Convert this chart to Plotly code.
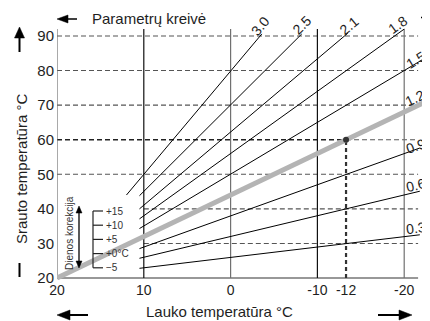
import math
import plotly.graph_objects as go

# ---------------- data ----------------
curve_params = ["0.3", "0.6", "0.9", "1.2", "1.5", "1.8", "2.1", "2.5", "3.0"]
curve_x_start = [10.5, 10.5, 10.5, 20.0, 10.5, 10.5, 10.5, 10.5, 12.0]
curve_y_start = [22.8, 25.7, 28.5, 20.0, 34.3, 37.1, 40.0, 43.8, 44.0]
curve_x_end = [-21.8, -21.8, -21.8, -23.0, -22.2, -20.0, -13.5, -8.2, -3.6]
curve_y_end = [32.5, 45.1, 57.6, 71.6, 83.3, 92.0, 90.8, 90.6, 90.6]
highlight_param = "1.2"

# the "-12" tick sits where the drawing places it on the linear scale
x_tick_vals = [20, 10, 0, -10, -13.3, -20]
x_tick_text = ["20", "10", "0", "-10", "-12", "-20"]
y_tick_vals = [20, 30, 40, 50, 60, 70, 80, 90]

vertical_grid = [20, 10, 0, -10, -20]
design_x = -13.3
design_y = 60

correction_labels = ["+15", "+10", "+5", "+0\u00b0C", "\u22125"]

# ---------------- layout geometry ----------------
OFF = 8  # page body margin
W, H = 430 - OFF, 321 - OFF
PLOT_L, PLOT_T, PLOT_B, PLOT_R = 57, 20, 280, 430  # screen px
ML, MT, MB, MR = PLOT_L - OFF, PLOT_T - OFF, 321 - PLOT_B, 430 - PLOT_R
PW, PH = PLOT_R - PLOT_L, PLOT_B - PLOT_T
X_PPU = 8.68   # px per degree (x)
Y_PPU = 3.457  # px per degree (y)
x_range = [20, 20 - PW / X_PPU]
y_range = [20 - (PLOT_B - 278) / Y_PPU, 90 + (36 - PLOT_T) / Y_PPU]
GRID_RIGHT = -21.6
GRID_TOP = 92


def P(xp, yp):
    """screen pixel -> paper coords"""
    return (xp - PLOT_L) / PW, (PLOT_B - yp) / PH


fig = go.Figure()
shapes = []
annotations = []

DARK = "#1e1e1e"
GRIDC = "#555555"

# horizontal dashed grid
for yv in y_tick_vals:
    if yv == 20:
        shapes.append(dict(type="line", xref="x", yref="y", x0=20, x1=GRID_RIGHT, y0=yv, y1=yv,
                           line=dict(color="#333333", width=1.2), layer="below"))
        continue
    x0 = 10 if yv in (30, 40) else 20
    if yv == design_y:
        shapes.append(dict(type="line", xref="x", yref="y", x0=20, x1=design_x, y0=yv, y1=yv,
                           line=dict(color="#222222", width=1.6, dash="5px,3px"), layer="below"))
        x0 = design_x
    shapes.append(dict(type="line", xref="x", yref="y", x0=x0, x1=GRID_RIGHT, y0=yv, y1=yv,
                       line=dict(color=GRIDC, width=1.1, dash="5px,3px"), layer="below"))

# vertical grid
for xv in vertical_grid:
    col = "#111111" if xv in (10, -10) else "#707070"
    shapes.append(dict(type="line", xref="x", yref="y", x0=xv, x1=xv, y0=20, y1=GRID_TOP,
                       line=dict(color=col, width=1.2), layer="below"))

# design point vertical
shapes.append(dict(type="line", xref="x", yref="y", x0=design_x, x1=design_x, y0=20, y1=design_y,
                   line=dict(color="#333333", width=2.2, dash="4px,3px"), layer="below"))

# curves
for p, xs, ys, xe, ye in zip(curve_params, curve_x_start, curve_y_start, curve_x_end, curve_y_end):
    hl = p == highlight_param
    fig.add_trace(go.Scatter(
        x=[xs, xe], y=[ys, ye], mode="lines",
        line=dict(color="#b4b4b4" if hl else "#000000", width=5 if hl else 1),
        hoverinfo="skip", showlegend=False))

# design point
fig.add_trace(go.Scatter(x=[design_x], y=[design_y], mode="markers",
                         marker=dict(color="#333333", size=6), hoverinfo="skip", showlegend=False))

# curve labels (screen pixel centers)
label_px = {"0.3": (416, 228), "0.6": (416, 185), "0.9": (416, 146), "1.2": (415, 98),
            "1.5": (415.5, 60), "1.8": (397.5, 25), "2.1": (348.5, 25.5), "2.5": (302, 25),
            "3.0": (260, 25.5)}
for p, xs, ys, xe, ye in zip(curve_params, curve_x_start, curve_y_start, curve_x_end, curve_y_end):
    ang = math.degrees(math.atan2((ye - ys) * Y_PPU, (xs - xe) * X_PPU))
    px, py = P(*label_px[p])
    annotations.append(dict(text=p, x=px, y=py, xref="paper", yref="paper", showarrow=False,
                            textangle=-ang, xanchor="center", yanchor="middle",
                            font=dict(size=14, color=DARK)))

# titles
tx, ty = P(90, 18)
annotations.append(dict(text="Parametrų kreivė", x=tx, y=ty, xref="paper", yref="paper",
                        showarrow=False, xanchor="left", yanchor="middle",
                        font=dict(size=15, color=DARK)))
tx, ty = P(21, 169)
annotations.append(dict(text="Srauto temperatūra °C", x=tx, y=ty, xref="paper", yref="paper",
                        showarrow=False, textangle=-90, xanchor="center", yanchor="middle",
                        font=dict(size=15, color=DARK)))
tx, ty = P(219, 311)
annotations.append(dict(text="Lauko temperatūra °C", x=tx, y=ty, xref="paper", yref="paper",
                        showarrow=False, xanchor="center", yanchor="middle",
                        font=dict(size=15, color=DARK)))


def tri(tip, b1, b2):
    (x0, y0), (x1, y1), (x2, y2) = P(*tip), P(*b1), P(*b2)
    shapes.append(dict(type="path", xref="paper", yref="paper",
                       path=f"M{x0},{y0} L{x1},{y1} L{x2},{y2} Z",
                       fillcolor="#000000", line=dict(color="#000000", width=0.5)))


def seg(a, b, w=1.5, col="#000000"):
    (x0, y0), (x1, y1) = P(*a), P(*b)
    shapes.append(dict(type="line", xref="paper", yref="paper", x0=x0, y0=y0, x1=x1, y1=y1,
                       line=dict(color=col, width=w)))


# top-left arrow
tri((57, 19), (68, 15), (68, 23))
seg((68, 19), (77, 19), 1.5)
# top-right dash
seg((421, 17.5), (430, 17.5), 1.5)
# up arrow on y axis
tri((19.5, 27), (14.5, 38), (24.5, 38))
seg((19.5, 38), (19.5, 52), 2)
# bar
seg((19.5, 263), (19.5, 277), 2)
# bottom arrows
tri((57, 315), (70, 310), (70, 320))
seg((70, 315), (88, 315), 2)
tri((412, 315), (399, 310), (399, 320))
seg((378, 315), (399, 315), 2)

# day correction inset
tx, ty = P(69, 233)
annotations.append(dict(text="Dienos korekcija", x=tx, y=ty, xref="paper", yref="paper",
                        showarrow=False, textangle=-90, xanchor="center", yanchor="middle",
                        font=dict(size=10, color="#333333")))
tri((79, 206), (76, 213), (82, 213))
tri((79, 268), (76, 261), (82, 261))
seg((79, 212), (79, 262), 1.3)
top_y, step = 211, 14.2
seg((93, top_y), (93, top_y + step * (len(correction_labels) - 1)), 1.2, "#222222")
for i, lab in enumerate(correction_labels):
    yy = top_y + step * i
    seg((93, yy), (103, yy), 1.2, "#222222")
    tx, ty = P(104, yy)
    annotations.append(dict(text=lab, x=tx, y=ty, xref="paper", yref="paper", showarrow=False,
                            xanchor="left", yanchor="middle", font=dict(size=10, color="#333333")))

fig.update_layout(
    width=W, height=H, margin=dict(l=ML, r=MR, t=MT, b=MB, autoexpand=False),
    paper_bgcolor="white", plot_bgcolor="white",
    font=dict(family="Liberation Sans, Arial, sans-serif", color=DARK),
    shapes=shapes, annotations=annotations, showlegend=False,
    xaxis=dict(range=x_range, tickvals=x_tick_vals, ticktext=x_tick_text, showgrid=False,
               zeroline=False, showline=False, ticks="", tickangle=0, automargin=False,
               tickfont=dict(size=14, color=DARK)),
    yaxis=dict(range=y_range, tickvals=y_tick_vals, showgrid=False, zeroline=False,
               showline=False, ticks="", automargin=False, ticklabelstandoff=2,
               tickfont=dict(size=15, color=DARK)),
)

fig.write_html("out.html")
